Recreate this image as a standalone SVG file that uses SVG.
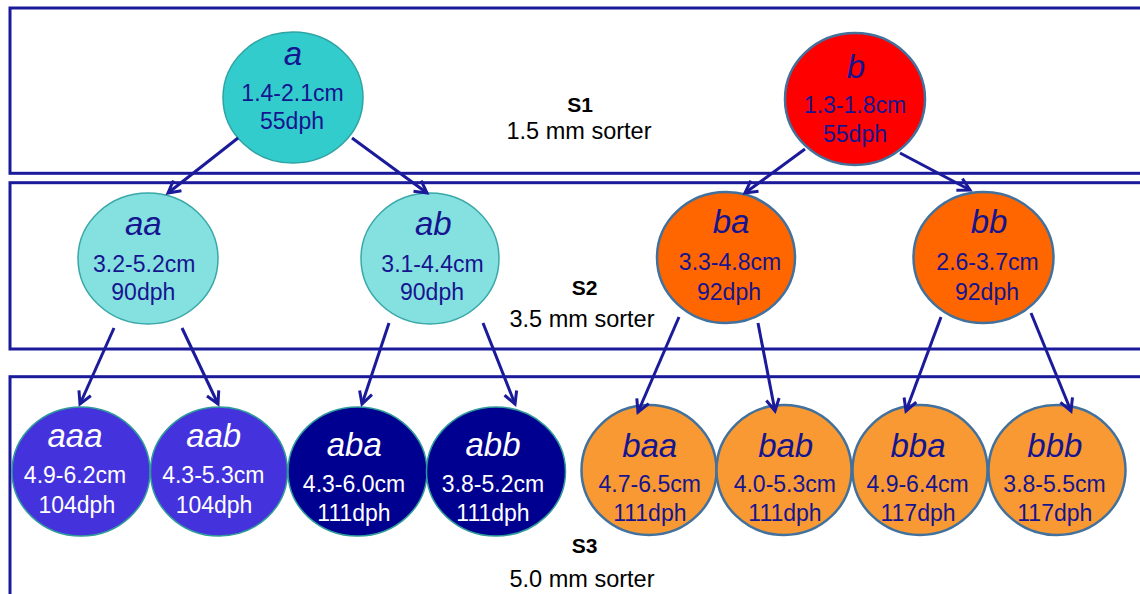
<svg xmlns="http://www.w3.org/2000/svg" width="1140" height="594" viewBox="0 0 1140 594">
<defs>
<style>
.band{fill:none;stroke:#1a1a9a;stroke-width:3}
.t{font-family:"Liberation Sans",Arial,sans-serif;text-anchor:middle}
.ti{font-size:33px;font-style:italic}
.tn{font-size:23px}
.dk{fill:#15158f}
.wh{fill:#ffffff}
.lb{font-family:"Liberation Sans",Arial,sans-serif;text-anchor:middle;fill:#000}
.lbb{font-size:21px;font-weight:bold}
.lbs{font-size:23.5px}
.teal{fill:#33cccc;stroke:#2ea3a3;stroke-width:1.5}
.lteal{fill:#85e0e0;stroke:#3aa8a8;stroke-width:1.5}
.red{fill:#ff0000;stroke:#41719c;stroke-width:2.5}
.org{fill:#ff6600;stroke:#41719c;stroke-width:2.5}
.lorg{fill:#f99933;stroke:#41719c;stroke-width:2.5}
.vio{fill:#4433dd;stroke:#2f9a9a;stroke-width:1.5}
.nav{fill:#000090;stroke:#2f9a9a;stroke-width:1.5}
.cn{stroke:#1a1a9a;stroke-width:3;fill:none;marker-end:url(#ah)}
</style>
<marker id="ah" markerUnits="userSpaceOnUse" markerWidth="18" markerHeight="18" viewBox="0 0 18 18" refX="15" refY="9" orient="auto">
<path d="M3,2.5 L15,9 L3,15.5" fill="none" stroke="#1a1a9a" stroke-width="3" stroke-linejoin="miter"/>
</marker>
</defs>
<rect x="0" y="0" width="1140" height="594" fill="#ffffff"/>
<g id="bands">
<rect class="band" x="10" y="8" width="1150" height="165.3"/>
<rect class="band" x="10" y="182.7" width="1150" height="166.3"/>
<rect class="band" x="10" y="376.7" width="1150" height="260"/>
</g>
<g id="labels">
<text class="lb lbb" x="580" y="111.5">S1</text>
<text class="lb lbs" x="579" y="139">1.5 mm sorter</text>
<text class="lb lbb" x="584.5" y="295">S2</text>
<text class="lb lbs" x="582" y="326.7">3.5 mm sorter</text>
<text class="lb lbb" x="584.5" y="553">S3</text>
<text class="lb lbs" x="582" y="586.5">5.0 mm sorter</text>
</g>
<g id="node-a">
<ellipse class="teal" cx="293" cy="97.5" rx="70" ry="65.5"/>
<text class="t ti dk" x="293" y="65">a</text>
<text class="t tn dk" x="292.5" y="100.5">1.4-2.1cm</text>
<text class="t tn dk" x="292" y="129">55dph</text>
</g>
<g id="node-b">
<ellipse class="red" cx="855" cy="99" rx="70" ry="66"/>
<text class="t ti dk" x="856" y="78">b</text>
<text class="t tn dk" x="855" y="113">1.3-1.8cm</text>
<text class="t tn dk" x="855" y="141.5">55dph</text>
</g>
<g id="node-aa">
<ellipse class="lteal" cx="148" cy="258.5" rx="70" ry="65.5"/>
<text class="t ti dk" x="143.3" y="235">aa</text>
<text class="t tn dk" x="144.2" y="271.7">3.2-5.2cm</text>
<text class="t tn dk" x="143.3" y="300">90dph</text>
</g>
<g id="node-ab">
<ellipse class="lteal" cx="430" cy="258.5" rx="69" ry="65.5"/>
<text class="t ti dk" x="433.3" y="235">ab</text>
<text class="t tn dk" x="432.5" y="271.7">3.1-4.4cm</text>
<text class="t tn dk" x="432" y="300">90dph</text>
</g>
<g id="node-ba">
<ellipse class="org" cx="726" cy="257.5" rx="69" ry="65.5"/>
<text class="t ti dk" x="731" y="233.3">ba</text>
<text class="t tn dk" x="730" y="270">3.3-4.8cm</text>
<text class="t tn dk" x="729" y="300">92dph</text>
</g>
<g id="node-bb">
<ellipse class="org" cx="983.5" cy="257.5" rx="70" ry="65.5"/>
<text class="t ti dk" x="989" y="233.3">bb</text>
<text class="t tn dk" x="987.5" y="270">2.6-3.7cm</text>
<text class="t tn dk" x="987" y="300">92dph</text>
</g>
<g id="node-aaa">
<ellipse class="vio" cx="81" cy="471.5" rx="69" ry="64.5"/>
<text class="t ti wh" x="75" y="446.7">aaa</text>
<text class="t tn wh" x="75" y="483">4.9-6.2cm</text>
<text class="t tn wh" x="76.8" y="512.5">104dph</text>
</g>
<g id="node-aab">
<ellipse class="vio" cx="219" cy="471.5" rx="68.5" ry="64.5"/>
<text class="t ti wh" x="213.7" y="446.7">aab</text>
<text class="t tn wh" x="213.3" y="483">4.3-5.3cm</text>
<text class="t tn wh" x="214" y="512.5">104dph</text>
</g>
<g id="node-aba">
<ellipse class="nav" cx="357.5" cy="471.5" rx="69.5" ry="64.5"/>
<text class="t ti wh" x="354.3" y="456">aba</text>
<text class="t tn wh" x="354" y="491.7">4.3-6.0cm</text>
<text class="t tn wh" x="354" y="520.5">111dph</text>
</g>
<g id="node-abb">
<ellipse class="nav" cx="496" cy="471.5" rx="69.5" ry="64.5"/>
<text class="t ti wh" x="493" y="456">abb</text>
<text class="t tn wh" x="493" y="491.7">3.8-5.2cm</text>
<text class="t tn wh" x="493" y="520.5">111dph</text>
</g>
<g id="node-baa">
<ellipse class="lorg" cx="649" cy="470" rx="67.5" ry="65"/>
<text class="t ti dk" x="649.7" y="456.7">baa</text>
<text class="t tn dk" x="649.7" y="491.7">4.7-6.5cm</text>
<text class="t tn dk" x="649.8" y="521">111dph</text>
</g>
<g id="node-bab">
<ellipse class="lorg" cx="784" cy="470" rx="67.5" ry="65"/>
<text class="t ti dk" x="785.7" y="456.7">bab</text>
<text class="t tn dk" x="784.8" y="491.7">4.0-5.3cm</text>
<text class="t tn dk" x="785" y="521">111dph</text>
</g>
<g id="node-bba">
<ellipse class="lorg" cx="920" cy="470" rx="67.5" ry="65"/>
<text class="t ti dk" x="918" y="456.7">bba</text>
<text class="t tn dk" x="917.6" y="491.7">4.9-6.4cm</text>
<text class="t tn dk" x="918" y="521">117dph</text>
</g>
<g id="node-bbb">
<ellipse class="lorg" cx="1057" cy="470" rx="68.5" ry="65"/>
<text class="t ti dk" x="1054.9" y="456.7">bbb</text>
<text class="t tn dk" x="1054.5" y="491.7">3.8-5.5cm</text>
<text class="t tn dk" x="1054.8" y="521">117dph</text>
</g>
<g id="connectors">
<line class="cn" x1="238" y1="138" x2="168" y2="193"/>
<line class="cn" x1="352" y1="138" x2="427" y2="193"/>
<line class="cn" x1="805" y1="149" x2="745" y2="193"/>
<line class="cn" x1="900" y1="153" x2="970" y2="190"/>
<line class="cn" x1="114" y1="328" x2="80" y2="404"/>
<line class="cn" x1="182" y1="328" x2="218" y2="404"/>
<line class="cn" x1="389" y1="323" x2="362" y2="404"/>
<line class="cn" x1="483" y1="323" x2="515" y2="404"/>
<line class="cn" x1="679" y1="317" x2="638" y2="412"/>
<line class="cn" x1="758" y1="323" x2="775" y2="411"/>
<line class="cn" x1="941" y1="317" x2="906" y2="411"/>
<line class="cn" x1="1031" y1="313" x2="1071" y2="411"/>
</g>
</svg>
